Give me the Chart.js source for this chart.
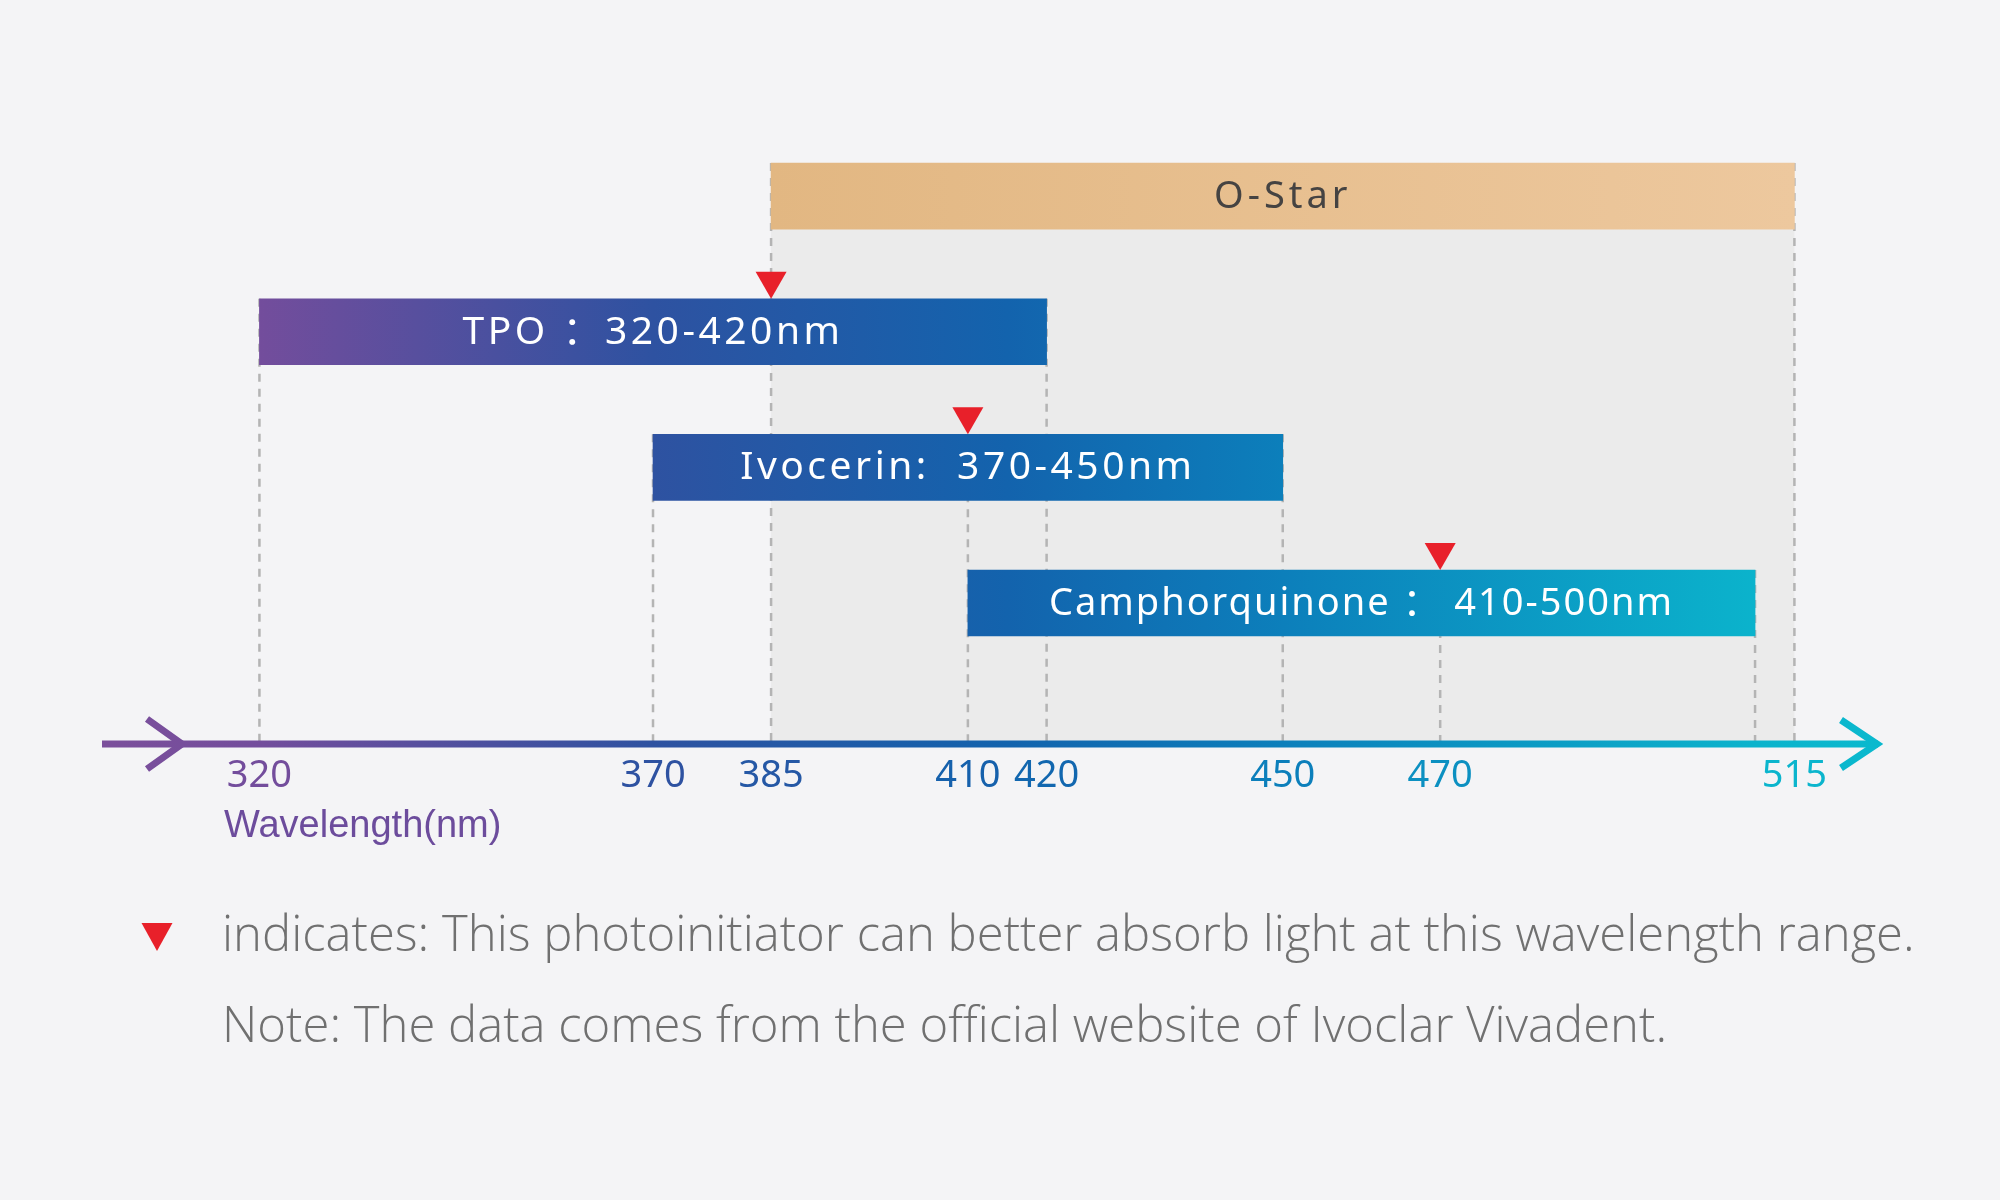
<!DOCTYPE html>
<html>
<head>
<meta charset="utf-8">
<title>Photoinitiator absorption ranges</title>
<script src="https://cdn.jsdelivr.net/npm/chart.js@4.4.1/dist/chart.umd.min.js"></script>
<style>
	html, body { margin: 0; padding: 0; background: #f4f4f6; }
	#wrap { position: relative; width: 2000px; height: 1200px; }
</style>
</head>
<body>
<div id="wrap"><canvas id="wave-chart"></canvas></div>
<script>
/* global Chart */
( function () {
	'use strict';

	// ----------------------------------------------------------------
	// Data
	// ----------------------------------------------------------------
	var CATEGORIES  = [ 'O-Star', 'TPO', 'Ivocerin', 'Camphorquinone' ];
	var RANGE_START = [ 385, 320, 370, 410 ];
	var RANGE_END   = [ 515, 420, 450, 510 ];
	var BAR_LABELS  = [ 'O-Star', 'TPO ：320-420nm', 'Ivocerin:  370-450nm', 'Camphorquinone ： 410-500nm' ];
	var PEAKS       = [ null, 385, 410, 470 ];
	var TICKS       = [ 320, 370, 385, 410, 420, 450, 470, 515 ];
	var AXIS_TITLE  = 'Wavelength(nm)';
	var NOTES       = [
		'indicates: This photoinitiator can better absorb light at this wavelength range.',
		'Note: The data comes from the official website of Ivoclar Vivadent.'
	];

	// ----------------------------------------------------------------
	// Styles
	// ----------------------------------------------------------------
	var BG       = '#f4f4f6';
	var SHADE    = '#ebebeb';
	var DASH     = '#b4b4b4';
	var RED      = '#e8202a';
	var NOTE_CLR = '#707070';
	var SPECTRUM = [
		[ 300, '#7b4f9b' ], [ 320, '#734d9c' ], [ 370, '#2e52a1' ],
		[ 415, '#1363ad' ], [ 450, '#0c7fbb' ], [ 510, '#0bb3cc' ], [ 526, '#0ab9ce' ]
	];
	var OSTAR_FROM = '#e2b782';
	var OSTAR_TO   = '#edc89e';
	// per bar label: [ colour, font size, letter spacing ]
	var LABEL_STYLE = [
		[ '#454342', 38, 4 ],
		[ '#ffffff', 39, 3.5 ],
		[ '#ffffff', 39, 3.5 ],
		[ '#ffffff', 38, 2 ]
	];
	var X_MIN = 300, X_MAX = 526;

	// ----------------------------------------------------------------
	// Helpers
	// ----------------------------------------------------------------
	function hexRgb( h ) {
		return [ parseInt( h.substr( 1, 2 ), 16 ), parseInt( h.substr( 3, 2 ), 16 ), parseInt( h.substr( 5, 2 ), 16 ) ];
	}

	function colorAt( nm ) {
		for ( var i = 1; i < SPECTRUM.length; i++ ) {
			if ( nm <= SPECTRUM[ i ][ 0 ] ) {
				var a = SPECTRUM[ i - 1 ], b = SPECTRUM[ i ];
				var t = ( nm - a[ 0 ] ) / ( b[ 0 ] - a[ 0 ] );
				var ca = hexRgb( a[ 1 ] ), cb = hexRgb( b[ 1 ] );
				return 'rgb(' + [ 0, 1, 2 ].map( function ( k ) {
					return Math.round( ca[ k ] + ( cb[ k ] - ca[ k ] ) * t );
				} ).join( ',' ) + ')';
			}
		}
		return SPECTRUM[ SPECTRUM.length - 1 ][ 1 ];
	}

	function spectrumGradient( chart ) {
		var x = chart.scales.x;
		var g = chart.ctx.createLinearGradient( x.getPixelForValue( X_MIN ), 0, x.getPixelForValue( X_MAX ), 0 );
		SPECTRUM.forEach( function ( s ) {
			g.addColorStop( ( s[ 0 ] - X_MIN ) / ( X_MAX - X_MIN ), s[ 1 ] );
		} );
		return g;
	}

	function dashed( ctx, px, y0, y1 ) {
		ctx.beginPath();
		ctx.moveTo( px, y0 );
		ctx.lineTo( px, y1 );
		ctx.stroke();
	}

	function downTriangle( ctx, cx, tipY, w, h ) {
		ctx.beginPath();
		ctx.moveTo( cx - w / 2, tipY - h );
		ctx.lineTo( cx + w / 2, tipY - h );
		ctx.lineTo( cx, tipY );
		ctx.closePath();
		ctx.fill();
	}

	// ----------------------------------------------------------------
	// Plugin: shading, guides, labels, markers, arrow axis, notes
	// ----------------------------------------------------------------
	var wavePlugin = {
		id: 'wave',

		beforeDraw: function ( chart ) {
			var ctx = chart.ctx;
			ctx.save();
			ctx.fillStyle = BG;
			ctx.fillRect( 0, 0, chart.width, chart.height );
			ctx.restore();
		},

		beforeDatasetsDraw: function ( chart ) {
			var ctx   = chart.ctx;
			var bars  = chart.getDatasetMeta( 0 ).data;
			var xs    = chart.scales.x;
			var axisY = chart.chartArea.bottom;

			ctx.save();
			// O-Star coverage
			var o = bars[ 0 ];
			var oBottom = o.y + o.height / 2;
			ctx.fillStyle = SHADE;
			ctx.fillRect( o.base, oBottom, o.x - o.base, axisY - oBottom );

			// one dashed guide per wavelength, starting at the highest bar that uses it
			var guides = {};
			function add( nm, top ) {
				if ( guides[ nm ] === undefined || top < guides[ nm ] ) { guides[ nm ] = top; }
			}
			bars.forEach( function ( bar, i ) {
				var top = bar.y - bar.height / 2;
				add( RANGE_START[ i ], top );
				add( RANGE_END[ i ], top );
				if ( PEAKS[ i ] !== null ) { add( PEAKS[ i ], top ); }
			} );

			ctx.strokeStyle = DASH;
			ctx.lineWidth = 2.5;
			ctx.setLineDash( [ 8, 7 ] );
			Object.keys( guides ).forEach( function ( nm ) {
				dashed( ctx, xs.getPixelForValue( +nm ), guides[ nm ], axisY );
			} );
			ctx.restore();
		},

		afterDatasetsDraw: function ( chart ) {
			var ctx   = chart.ctx;
			var bars  = chart.getDatasetMeta( 0 ).data;
			var xs    = chart.scales.x;
			var area  = chart.chartArea;
			var axisY = area.bottom;

			ctx.save();
			// bar labels
			ctx.textAlign = 'center';
			ctx.textBaseline = 'middle';
			bars.forEach( function ( bar, i ) {
				var st = LABEL_STYLE[ i ];
				ctx.fillStyle = st[ 0 ];
				ctx.font = st[ 1 ] + 'px "Noto Sans", "Noto Sans CJK SC", sans-serif';
				ctx.letterSpacing = st[ 2 ] + 'px';
				ctx.fillText( BAR_LABELS[ i ], ( bar.base + bar.x ) / 2, bar.y + 1 );
			} );
			ctx.letterSpacing = '0px';

			// peak markers
			ctx.fillStyle = RED;
			bars.forEach( function ( bar, i ) {
				if ( PEAKS[ i ] === null ) { return; }
				downTriangle( ctx, xs.getPixelForValue( PEAKS[ i ] ), bar.y - bar.height / 2, 31, 27 );
			} );

			// arrow axis
			ctx.strokeStyle = spectrumGradient( chart );
			ctx.lineWidth = 7;
			ctx.lineCap = 'butt';
			ctx.lineJoin = 'miter';
			ctx.beginPath();
			ctx.moveTo( area.left, axisY );
			ctx.lineTo( area.right - 3, axisY );
			ctx.stroke();

			ctx.beginPath();
			ctx.moveTo( area.left + 45, axisY - 25 );
			ctx.lineTo( area.left + 80, axisY );
			ctx.lineTo( area.left + 45, axisY + 25 );
			ctx.stroke();

			ctx.beginPath();
			ctx.moveTo( area.right - 40, axisY - 24 );
			ctx.lineTo( area.right - 4, axisY );
			ctx.lineTo( area.right - 40, axisY + 24 );
			ctx.stroke();
			ctx.restore();
		},

		afterDraw: function ( chart ) {
			var ctx = chart.ctx;
			ctx.save();
			ctx.textAlign = 'left';
			ctx.textBaseline = 'alphabetic';

			ctx.fillStyle = '#6c4c9c';
			ctx.font = '38px "Liberation Sans", Arial, sans-serif';
			ctx.fillText( AXIS_TITLE, 224, 837 );

			ctx.fillStyle = RED;
			downTriangle( ctx, 157, 951, 31, 28 );

			ctx.fillStyle = NOTE_CLR;
			ctx.font = '300 49px "Open Sans", "Noto Sans", sans-serif';
			ctx.fillText( NOTES[ 0 ], 222, 951 );
			ctx.fillText( NOTES[ 1 ], 222, 1042 );
			ctx.restore();
		}
	};

	// ----------------------------------------------------------------
	// Chart
	// ----------------------------------------------------------------
	function build() {
		var el = document.getElementById( 'wave-chart' );

		new Chart( el, {
			type: 'bar',
			data: {
				labels: CATEGORIES,
				datasets: [ {
					label: 'Absorption range',
					data: CATEGORIES.map( function ( c, i ) {
						return { x: [ RANGE_START[ i ], RANGE_END[ i ] ], y: i };
					} ),
					barThickness: 66,
					borderWidth: 0,
					borderSkipped: false,
					backgroundColor: function ( ctx ) {
						var chart = ctx.chart;
						if ( ! chart.chartArea ) { return '#1363ad'; }
						if ( ctx.dataIndex === 0 ) {
							var xs = chart.scales.x;
							var g = chart.ctx.createLinearGradient(
								xs.getPixelForValue( RANGE_START[ 0 ] ), 0,
								xs.getPixelForValue( RANGE_END[ 0 ] ), 0 );
							g.addColorStop( 0, OSTAR_FROM );
							g.addColorStop( 1, OSTAR_TO );
							return g;
						}
						return spectrumGradient( chart );
					}
				} ]
			},
			options: {
				indexAxis: 'y',
				responsive: true,
				maintainAspectRatio: false,
				animation: false,
				devicePixelRatio: 1,
				layout: { padding: { left: 102, right: 119, top: 60.5, bottom: 396 } },
				plugins: {
					legend: { display: false },
					tooltip: { enabled: false }
				},
				scales: {
					x: {
						type: 'linear',
						min: X_MIN,
						max: X_MAX,
						position: 'bottom',
						grid: { display: false, drawTicks: false },
						border: { display: false },
						afterBuildTicks: function ( scale ) {
							scale.ticks = TICKS.map( function ( v ) { return { value: v }; } );
						},
						afterFit: function ( scale ) { scale.height = 60; },
						ticks: {
							autoSkip: false,
							maxRotation: 0,
							padding: 9,
							font: { family: '"Noto Sans", sans-serif', size: 38 },
							color: function ( ctx ) { return colorAt( ctx.tick.value ); },
							callback: function ( v ) { return String( v ); }
						}
					},
					y: {
						type: 'linear',
						offset: false,
						grid: { offset: false },
						min: -1,
						max: 4.04,
						reverse: true,
						display: false
					}
				}
			},
			plugins: [ wavePlugin ]
		} );
	}

	if ( document.fonts && document.fonts.load ) {
		Promise.all( [
			document.fonts.load( '38px "Noto Sans"' ),
			document.fonts.load( '300 49px "Open Sans"' ),
			document.fonts.load( '38px "Liberation Sans"' )
		] ).then( build, build );
	} else {
		build();
	}
}() );
</script>
</body>
</html>
